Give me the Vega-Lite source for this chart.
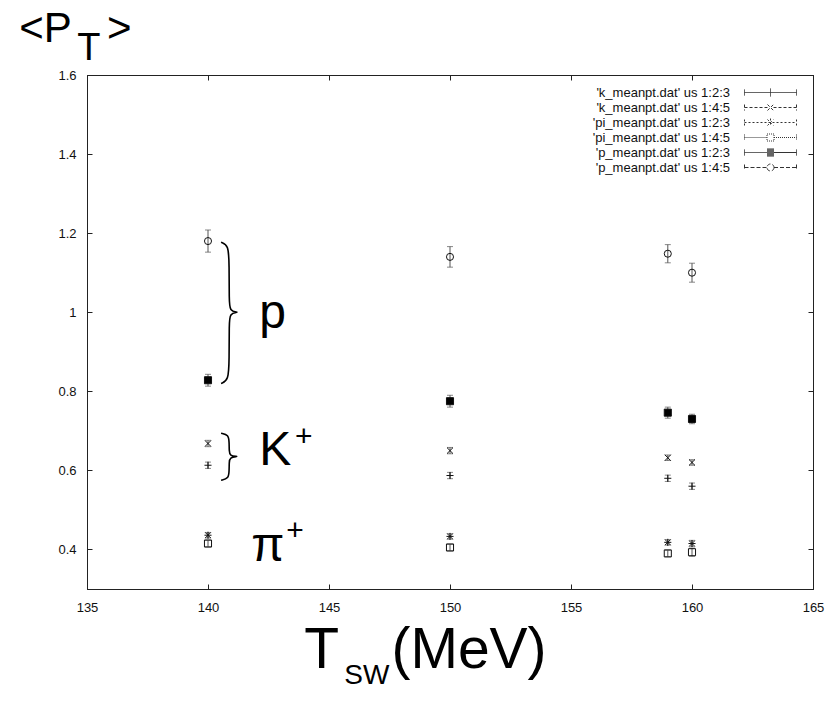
{
  "$schema": "https://vega.github.io/schema/vega-lite/v6.json",
  "width": 726,
  "height": 514,
  "autosize": {"type": "none"},
  "padding": {"left": 87, "top": 75, "right": 14, "bottom": 112},
  "background": "white",
  "config": {
    "font": "Liberation Sans",
    "view": {"stroke": "#111", "strokeWidth": 1},
    "axis": {"grid": false, "domainColor": "#222", "tickColor": "#222", "labelColor": "#111", "labelFont": "Liberation Sans", "labelFontSize": 13, "labelFlush": false, "title": null}
  },
  "datasets": {
    "pts": [
      {"T": 140, "series": "'k_meanpt.dat' us 1:2:3", "v": 0.613, "err": 0.008},
      {"T": 150, "series": "'k_meanpt.dat' us 1:2:3", "v": 0.587, "err": 0.008},
      {"T": 159, "series": "'k_meanpt.dat' us 1:2:3", "v": 0.580, "err": 0.008},
      {"T": 160, "series": "'k_meanpt.dat' us 1:2:3", "v": 0.560, "err": 0.008},
      {"T": 140, "series": "'k_meanpt.dat' us 1:4:5", "v": 0.668, "err": 0.008},
      {"T": 150, "series": "'k_meanpt.dat' us 1:4:5", "v": 0.650, "err": 0.008},
      {"T": 159, "series": "'k_meanpt.dat' us 1:4:5", "v": 0.632, "err": 0.007},
      {"T": 160, "series": "'k_meanpt.dat' us 1:4:5", "v": 0.620, "err": 0.007},
      {"T": 140, "series": "'pi_meanpt.dat' us 1:2:3", "v": 0.436, "err": 0.007},
      {"T": 150, "series": "'pi_meanpt.dat' us 1:2:3", "v": 0.433, "err": 0.007},
      {"T": 159, "series": "'pi_meanpt.dat' us 1:2:3", "v": 0.418, "err": 0.007},
      {"T": 160, "series": "'pi_meanpt.dat' us 1:2:3", "v": 0.415, "err": 0.008},
      {"T": 140, "series": "'pi_meanpt.dat' us 1:4:5", "v": 0.415, "err": 0.008},
      {"T": 150, "series": "'pi_meanpt.dat' us 1:4:5", "v": 0.405, "err": 0.008},
      {"T": 159, "series": "'pi_meanpt.dat' us 1:4:5", "v": 0.390, "err": 0.008},
      {"T": 160, "series": "'pi_meanpt.dat' us 1:4:5", "v": 0.393, "err": 0.010},
      {"T": 140, "series": "'p_meanpt.dat' us 1:2:3", "v": 0.828, "err": 0.015},
      {"T": 150, "series": "'p_meanpt.dat' us 1:2:3", "v": 0.775, "err": 0.015},
      {"T": 159, "series": "'p_meanpt.dat' us 1:2:3", "v": 0.746, "err": 0.014},
      {"T": 160, "series": "'p_meanpt.dat' us 1:2:3", "v": 0.730, "err": 0.012},
      {"T": 140, "series": "'p_meanpt.dat' us 1:4:5", "v": 1.180, "err": 0.028},
      {"T": 150, "series": "'p_meanpt.dat' us 1:4:5", "v": 1.140, "err": 0.026},
      {"T": 159, "series": "'p_meanpt.dat' us 1:4:5", "v": 1.148, "err": 0.023},
      {"T": 160, "series": "'p_meanpt.dat' us 1:4:5", "v": 1.100, "err": 0.024}
    ],
    "ann": [
      {"label": "<P", "tx": 132.2, "ty": 1.684, "role": "t42"},
      {"label": "T", "tx": 134.6, "ty": 1.638, "role": "t38"},
      {"label": ">", "tx": 135.83, "ty": 1.684, "role": "t42"},
      {"label": "T", "tx": 143.98, "ty": 0.099, "role": "t57"},
      {"label": "SW", "tx": 145.63, "ty": 0.059, "role": "t28"},
      {"label": "(MeV)", "tx": 147.58, "ty": 0.099, "role": "t57"},
      {"label": "p", "tx": 142.12, "ty": 0.96, "role": "t48"},
      {"label": "K", "tx": 142.12, "ty": 0.613, "role": "t48"},
      {"label": "+", "tx": 143.6, "ty": 0.661, "role": "t30"},
      {"label": "π", "tx": 141.79, "ty": 0.372, "role": "t48"},
      {"label": "+", "tx": 143.23, "ty": 0.423, "role": "t30"}
    ],
    "brace": [
      {"which": "p", "ord": 1, "bx": 140.54, "by": 1.177},
      {"which": "p", "ord": 2, "bx": 140.85, "by": 1.170},
      {"which": "p", "ord": 3, "bx": 140.875, "by": 1.12},
      {"which": "p", "ord": 4, "bx": 140.875, "by": 1.03},
      {"which": "p", "ord": 5, "bx": 140.9, "by": 1.003},
      {"which": "p", "ord": 6, "bx": 141.21, "by": 1.0},
      {"which": "p", "ord": 7, "bx": 141.21, "by": 1.0},
      {"which": "p", "ord": 8, "bx": 140.9, "by": 0.997},
      {"which": "p", "ord": 9, "bx": 140.875, "by": 0.97},
      {"which": "p", "ord": 10, "bx": 140.875, "by": 0.88},
      {"which": "p", "ord": 11, "bx": 140.85, "by": 0.827},
      {"which": "p", "ord": 12, "bx": 140.54, "by": 0.820},
      {"which": "k", "ord": 1, "bx": 140.54, "by": 0.694},
      {"which": "k", "ord": 2, "bx": 140.85, "by": 0.690},
      {"which": "k", "ord": 3, "bx": 140.875, "by": 0.670},
      {"which": "k", "ord": 4, "bx": 140.875, "by": 0.650},
      {"which": "k", "ord": 5, "bx": 140.9, "by": 0.637},
      {"which": "k", "ord": 6, "bx": 141.2, "by": 0.635},
      {"which": "k", "ord": 7, "bx": 141.2, "by": 0.635},
      {"which": "k", "ord": 8, "bx": 140.9, "by": 0.633},
      {"which": "k", "ord": 9, "bx": 140.875, "by": 0.620},
      {"which": "k", "ord": 10, "bx": 140.875, "by": 0.600},
      {"which": "k", "ord": 11, "bx": 140.85, "by": 0.579},
      {"which": "k", "ord": 12, "bx": 140.54, "by": 0.575}
    ]
  },
  "resolve": {
    "scale": {"shape": "independent", "fill": "independent", "strokeDash": "independent"},
    "axis": {"x": "independent", "y": "independent"}
  },
  "layer": [
    {
      "data": {"name": "pts"},
      "mark": {"type": "errorbar", "ticks": {"size": 6, "color": "#555"}, "rule": {"color": "#555", "strokeWidth": 1}},
      "encoding": {
        "x": {"field": "T", "type": "quantitative", "scale": {"domain": [135, 165], "nice": false, "zero": false},
          "axis": {"orient": "bottom", "values": [135, 140, 145, 150, 155, 160, 165], "tickSize": -5, "labelPadding": 17, "title": null}},
        "y": {"field": "v", "type": "quantitative", "scale": {"domain": [0.3, 1.6], "nice": false, "zero": false},
          "axis": {"orient": "left", "values": [0.4, 0.6, 0.8, 1, 1.2, 1.4, 1.6], "format": "~g", "tickSize": -5, "labelPadding": 16, "title": null}},
        "yError": {"field": "err"}
      }
    },
    {
      "data": {"name": "pts"},
      "mark": {"type": "point", "size": 50, "stroke": "#111", "strokeWidth": 1, "opacity": 1},
      "encoding": {
        "x": {"field": "T", "type": "quantitative",
          "axis": {"orient": "top", "values": [135, 140, 145, 150, 155, 160, 165], "labels": false, "tickSize": -5, "title": null}},
        "y": {"field": "v", "type": "quantitative",
          "axis": {"orient": "right", "values": [0.4, 0.6, 0.8, 1, 1.2, 1.4, 1.6], "labels": false, "tickSize": -5, "title": null}},
        "shape": {"field": "series", "type": "nominal", "legend": null,
          "scale": {
            "domain": ["'k_meanpt.dat' us 1:2:3", "'k_meanpt.dat' us 1:4:5", "'pi_meanpt.dat' us 1:2:3", "'pi_meanpt.dat' us 1:4:5", "'p_meanpt.dat' us 1:2:3", "'p_meanpt.dat' us 1:4:5"],
            "range": ["M-1,0L1,0M0,-1L0,1", "M-0.85,-0.85L0.85,0.85M-0.85,0.85L0.85,-0.85", "M-1,0L1,0M0,-1L0,1M-0.8,-0.8L0.8,0.8M-0.8,0.8L0.8,-0.8", "square", "square", "circle"]
          }
        },
        "fill": {"field": "series", "type": "nominal", "legend": null,
          "scale": {
            "domain": ["'k_meanpt.dat' us 1:2:3", "'k_meanpt.dat' us 1:4:5", "'pi_meanpt.dat' us 1:2:3", "'pi_meanpt.dat' us 1:4:5", "'p_meanpt.dat' us 1:2:3", "'p_meanpt.dat' us 1:4:5"],
            "range": ["transparent", "transparent", "transparent", "transparent", "#000", "transparent"]
          }
        }
      }
    },
    {
      "data": {"name": "pts"},
      "mark": {"type": "point", "filled": false, "color": "#333", "opacity": 0, "strokeWidth": 1},
      "encoding": {
        "x": {"field": "T", "type": "quantitative", "axis": null},
        "y": {"field": "v", "type": "quantitative", "axis": null},
        "shape": {"field": "series", "type": "nominal",
          "scale": {
            "domain": ["'k_meanpt.dat' us 1:2:3", "'k_meanpt.dat' us 1:4:5", "'pi_meanpt.dat' us 1:2:3", "'pi_meanpt.dat' us 1:4:5", "'p_meanpt.dat' us 1:2:3", "'p_meanpt.dat' us 1:4:5"],
            "range": [
              "M-5.2,0L5.2,0M-5.2,-0.6L-5.2,0.6M5.2,-0.6L5.2,0.6M0,-0.8L0,0.8",
              "M-5.2,0L-0.6,0M0.6,0L5.2,0M-5.2,-0.6L-5.2,0.6M5.2,-0.6L5.2,0.6M-0.6,-0.6L0.6,0.6M-0.6,0.6L0.6,-0.6",
              "M-5.2,0L5.2,0M-5.2,-0.6L-5.2,0.6M5.2,-0.6L5.2,0.6M0,-0.8L0,0.8M-0.6,-0.6L0.6,0.6M-0.6,0.6L0.6,-0.6",
              "M-5.2,0L-0.7,0M0.7,0L5.2,0M-5.2,-0.6L-5.2,0.6M5.2,-0.6L5.2,0.6M-0.7,-0.7L0.7,-0.7L0.7,0.7L-0.7,0.7Z",
              "M-5.2,0L-0.7,0M0.7,0L5.2,0M-5.2,-0.6L-5.2,0.6M5.2,-0.6L5.2,0.6M-0.7,-0.7L0.7,-0.7M-0.7,-0.5L0.7,-0.5M-0.7,-0.3L0.7,-0.3M-0.7,-0.1L0.7,-0.1M-0.7,0.1L0.7,0.1M-0.7,0.3L0.7,0.3M-0.7,0.5L0.7,0.5M-0.7,0.7L0.7,0.7",
              "M-5.2,0L-0.7,0M0.7,0L5.2,0M-5.2,-0.6L-5.2,0.6M5.2,-0.6L5.2,0.6M0.7,0A0.7,0.7,0,1,1,-0.7,0A0.7,0.7,0,1,1,0.7,0Z"
            ]
          },
          "legend": {
            "orient": "none", "legendX": 677, "legendY": 11, "title": null, "padding": 0,
            "labelAlign": "right", "labelOffset": -47, "labelFontSize": 13, "labelFont": "Liberation Sans", "labelColor": "#111",
            "symbolSize": 100, "symbolOpacity": 1, "rowPadding": 1, "symbolStrokeWidth": 1, "symbolStrokeColor": "#333"
          }
        },
        "strokeDash": {"field": "series", "type": "nominal",
          "scale": {
            "domain": ["'k_meanpt.dat' us 1:2:3", "'k_meanpt.dat' us 1:4:5", "'pi_meanpt.dat' us 1:2:3", "'pi_meanpt.dat' us 1:4:5", "'p_meanpt.dat' us 1:2:3", "'p_meanpt.dat' us 1:4:5"],
            "range": [[1, 0], [3, 2], [2, 2], [1, 1], [1, 0], [4, 2]]
          }
        }
      }
    },
    {
      "data": {"name": "brace"},
      "mark": {"type": "line", "interpolate": "basis", "stroke": "#000", "strokeWidth": 1.6},
      "encoding": {
        "x": {"field": "bx", "type": "quantitative", "axis": null},
        "y": {"field": "by", "type": "quantitative", "axis": null},
        "detail": {"field": "which"},
        "order": {"field": "ord", "type": "quantitative"}
      }
    },
    {
      "data": {"name": "ann"},
      "transform": [{"filter": "datum.role === 't28'"}],
      "mark": {"type": "text", "align": "left", "baseline": "alphabetic", "font": "Liberation Sans", "color": "#000", "fontSize": 28},
      "encoding": {"x": {"field": "tx", "type": "quantitative", "axis": null}, "y": {"field": "ty", "type": "quantitative", "axis": null}, "text": {"field": "label"}}
    },
    {
      "data": {"name": "ann"},
      "transform": [{"filter": "datum.role === 't30'"}],
      "mark": {"type": "text", "align": "left", "baseline": "alphabetic", "font": "Liberation Sans", "color": "#000", "fontSize": 30},
      "encoding": {"x": {"field": "tx", "type": "quantitative", "axis": null}, "y": {"field": "ty", "type": "quantitative", "axis": null}, "text": {"field": "label"}}
    },
    {
      "data": {"name": "ann"},
      "transform": [{"filter": "datum.role === 't38'"}],
      "mark": {"type": "text", "align": "left", "baseline": "alphabetic", "font": "Liberation Sans", "color": "#000", "fontSize": 38},
      "encoding": {"x": {"field": "tx", "type": "quantitative", "axis": null}, "y": {"field": "ty", "type": "quantitative", "axis": null}, "text": {"field": "label"}}
    },
    {
      "data": {"name": "ann"},
      "transform": [{"filter": "datum.role === 't42'"}],
      "mark": {"type": "text", "align": "left", "baseline": "alphabetic", "font": "Liberation Sans", "color": "#000", "fontSize": 42},
      "encoding": {"x": {"field": "tx", "type": "quantitative", "axis": null}, "y": {"field": "ty", "type": "quantitative", "axis": null}, "text": {"field": "label"}}
    },
    {
      "data": {"name": "ann"},
      "transform": [{"filter": "datum.role === 't48'"}],
      "mark": {"type": "text", "align": "left", "baseline": "alphabetic", "font": "Liberation Sans", "color": "#000", "fontSize": 48},
      "encoding": {"x": {"field": "tx", "type": "quantitative", "axis": null}, "y": {"field": "ty", "type": "quantitative", "axis": null}, "text": {"field": "label"}}
    },
    {
      "data": {"name": "ann"},
      "transform": [{"filter": "datum.role === 't57'"}],
      "mark": {"type": "text", "align": "left", "baseline": "alphabetic", "font": "Liberation Sans", "color": "#000", "fontSize": 57},
      "encoding": {"x": {"field": "tx", "type": "quantitative", "axis": null}, "y": {"field": "ty", "type": "quantitative", "axis": null}, "text": {"field": "label"}}
    }
  ]
}
